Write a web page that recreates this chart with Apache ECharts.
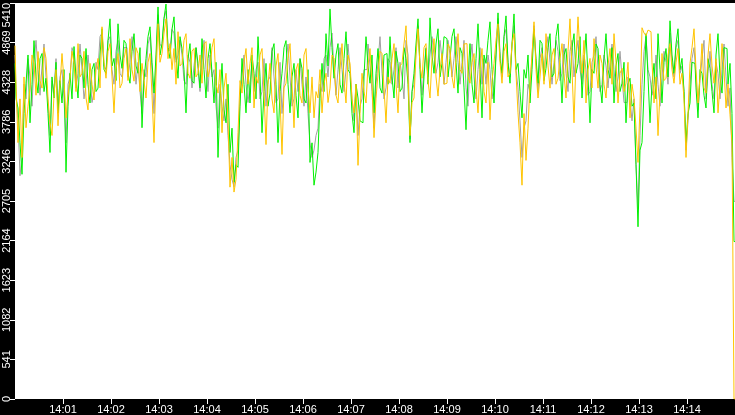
<!DOCTYPE html>
<html>
<head>
<meta charset="utf-8">
<script src="https://cdn.jsdelivr.net/npm/echarts@6/dist/echarts.min.js"></script>
<style>
    html, body {margin: 0; padding: 0; background: #000;}
    #chart {width: 735px; height: 415px;}
</style>
</head>
<body>
<div id="chart"></div>
<script>
// samples every 2.5 s starting 14:00:00
const stepSeconds = 2.5;
const startLabelHour = 14;

const yTickLabels = ["0", "541", "1082", "1623", "2164", "2705", "3246", "3786", "4328", "4869", "5410"];

const grayValues = [
    4700, 4200, 3800, 3050, 3300, 4300, 4100, 4650, 4400, 4000, 4600, 4900, 4500, 4150, 4550, 4850, 4400, 4050, 3600, 4350,
    4200, 4650, 3900, 4400, 4500, 4100, 3500, 4300, 4400, 4800, 4700, 4250, 4450, 4850, 4500, 4100, 4300, 4700, 4400, 4050,
    4200, 4600, 4500, 4950, 5000, 4550, 4500, 4900, 4950, 4500, 4300, 4750, 4900, 4450, 4400, 4800, 4800, 4400, 4600, 4950,
    4700, 4300, 4600, 4200, 3900, 4500, 4400, 4850, 4950, 4500, 3900, 4600, 5250, 4850, 4800, 5200, 5300, 4800, 4750, 5050,
    5000, 4600, 4700, 4900, 4700, 4350, 4300, 4700, 4600, 4250, 4550, 4800, 4500, 4200, 4600, 4900, 4500, 4200, 4700, 4400,
    4500, 4000, 3700, 4300, 4000, 3800, 4100, 3600, 3200, 3000, 2900, 3300, 3400, 4100, 4400, 4700, 4300, 4050, 4300, 4600,
    4200, 4500, 4600, 4100, 4200, 4650, 4000, 4350, 4400, 4800, 4400, 4050, 4100, 4600, 3900, 4300, 4600, 4850, 4400, 4000,
    4100, 4500, 4200, 4650, 4300, 4000, 4400, 3900, 3500, 3300, 3400, 3600, 3700, 4300, 4200, 4650, 4700, 4400, 4800, 5000,
    4500, 4150, 4500, 4800, 4500, 4200, 4500, 4850, 4500, 4100, 3800, 4300, 3600, 4000, 4100, 4500, 4500, 4850, 4550, 4200,
    3700, 4300, 4600, 4950, 4450, 4100, 4250, 4650, 4600, 4300, 4500, 4800, 4250, 4600, 4400, 4100, 4900, 4700, 3550, 4200,
    4300, 4750, 5100, 4600, 4150, 4500, 4800, 4400, 4700, 4950, 4700, 4450, 4600, 4900, 4650, 4300, 4600, 4900, 4700, 4400,
    4650, 4950, 4600, 4300, 4600, 4900, 4250, 4000, 4600, 4850, 4400, 4100, 4500, 4800, 4300, 4650, 4300, 4700, 4500, 4100,
    4300, 4700, 5200, 4750, 4400, 4950, 5050, 4600, 4400, 4850, 5100, 4500, 4250, 3800, 3300, 3700, 3800, 4300, 4200, 4700,
    5100, 4600, 4200, 4650, 4800, 4400, 4750, 4950, 4600, 4300, 4600, 4900, 4750, 4350, 4450, 4850, 4450, 4200, 4750, 4900,
    4400, 4700, 4900, 4500, 4300, 4700, 4500, 4150, 4200, 4600, 4700, 4950, 4500, 4200, 4300, 4700, 4550, 4250, 4600, 4850,
    4500, 4200, 4400, 4750, 4400, 4050, 4050, 4400, 4100, 3800, 4100, 3200, 2600, 3600, 4300, 4750, 4950, 4500, 4400, 4150,
    4300, 4700, 4300, 4000, 4400, 4750, 4600, 4300, 5000, 4600, 4400, 4800, 4900, 4450, 4550, 4200, 3400, 3800, 4300, 4650,
    4800, 4400, 3950, 4350, 4650, 4900, 4100, 4450, 4750, 4300, 4100, 4600, 4450, 4100, 4500, 4850, 4400, 4000, 4250, 3300,
    2700
];

const greenValues = [
    4585, 4100, 3976, 3500, 3070, 3900, 4314, 4700, 3773, 4300, 4896, 4400, 4179, 4650, 4720, 4200, 4382, 3900, 3368, 4400,
    4112, 4600, 3909, 4350, 4044, 4500, 3097, 4000, 4450, 4100, 4815, 4400, 4112, 4700, 4653, 4250, 4788, 4300, 4044, 4500,
    4585, 4200, 4247, 4700, 5058, 4500, 4450, 4900, 5194, 4550, 4653, 4350, 5126, 4700, 4517, 4900, 4855, 4450, 4314, 4750,
    4991, 4550, 4450, 4800, 3706, 4350, 4653, 4950, 5085, 4600, 4179, 4700, 5356, 4700, 4855, 5200, 5396, 4800, 4653, 5050,
    5221, 4700, 4382, 4950, 4788, 4500, 3909, 4650, 4855, 4350, 4314, 4800, 4585, 4250, 4923, 4500, 4112, 4650, 4855, 4450,
    4044, 4600, 3300, 4100, 4585, 3950, 3773, 4300, 3368, 3700, 2962, 3200, 3165, 4000, 4653, 4300, 3909, 4500, 4044, 4700,
    4450, 4100, 4950, 4400, 3638, 4200, 4585, 4000, 4179, 4750, 4855, 4300, 3503, 4200, 4450, 4800, 4896, 4300, 3909, 4400,
    4585, 4150, 3841, 4650, 4517, 4100, 4044, 4500, 3232, 3500, 2921, 3100, 3368, 4100, 4585, 4200, 4991, 4550, 5329, 4800,
    4382, 4700, 4855, 4300, 4179, 4650, 5018, 4500, 4450, 3900, 3638, 4300, 4112, 3800, 3773, 4400, 4950, 4550, 4314, 4700,
    3909, 4450, 4788, 4250, 4179, 4700, 4720, 4300, 4950, 4400, 4112, 4750, 4585, 4200, 4247, 4800, 4653, 4300, 3503, 4200,
    4450, 4850, 5194, 4500, 3909, 4400, 4788, 4300, 5207, 4700, 4450, 4850, 5058, 4400, 4585, 4950, 4923, 4400, 4653, 4950,
    5058, 4600, 4179, 4800, 4720, 4250, 3679, 4400, 4855, 4300, 4044, 4650, 5126, 4500, 3841, 4700, 4585, 4900, 5153, 4500,
    4044, 4700, 5275, 4650, 4450, 4950, 5234, 4600, 4314, 4850, 5261, 4500, 4585, 4200, 3841, 4500, 4382, 4700, 4044, 4500,
    5058, 4650, 4314, 4900, 4855, 4350, 4517, 4800, 4991, 4400, 4450, 4950, 5126, 4600, 4044, 4700, 4788, 4400, 4314, 4800,
    4991, 4450, 4585, 4950, 4112, 4600, 4991, 4400, 3773, 4500, 4450, 4850, 4788, 4300, 4044, 4650, 4991, 4500, 4382, 4800,
    4044, 4550, 4720, 4200, 4314, 4600, 3773, 4300, 4382, 4000, 4044, 3200, 2353, 3400, 3503, 4200, 4991, 4400, 3773, 4300,
    4585, 4100, 4991, 4500, 4044, 4600, 4788, 4400, 5167, 4700, 4450, 4850, 5058, 4500, 4653, 4200, 3503, 3900, 4044, 4600,
    4585, 4250, 3841, 4500, 4450, 4150, 3976, 4650, 4517, 4200, 3909, 4700, 4991, 4400, 4179, 4800, 4788, 4300, 4585, 3900,
    2151
];

const yellowValues = [
    4828, 4300, 3503, 4100, 3300, 4400, 3706, 4000, 4247, 4700, 4585, 4150, 4747, 4350, 4247, 4800, 4653, 4100, 3773, 3600,
    4152, 4500, 3733, 4300, 4720, 4350, 3841, 4150, 4382, 4750, 4585, 4200, 4855, 4400, 4450, 4750, 4112, 3950, 4585, 4300,
    4085, 4500, 4653, 4250, 5085, 4600, 4382, 4750, 4855, 4400, 3909, 4500, 4720, 4250, 4314, 4650, 4788, 4350, 4923, 4500,
    4342, 4800, 4720, 4200, 4585, 4350, 4112, 4600, 4720, 4150, 3503, 4400, 5126, 4600, 4720, 5000, 5194, 4650, 4855, 4500,
    4788, 4300, 5018, 4550, 4585, 4900, 4991, 4450, 4382, 4750, 4788, 4400, 4450, 4700, 4314, 4850, 4883, 4400, 4517, 4800,
    4923, 4300, 4179, 4500, 3638, 4250, 4450, 3800, 2894, 3300, 2827, 3000, 3638, 4350, 4179, 4600, 4788, 4300, 4585, 4800,
    3976, 4400, 4314, 4700, 4788, 4200, 3476, 4300, 4585, 4100, 3909, 4550, 4720, 4100, 3341, 4250, 4314, 4650, 4855, 4300,
    3706, 4500, 4585, 4150, 4044, 4700, 4788, 4250, 3909, 4400, 3841, 4200, 4112, 4500, 3909, 4300, 4450, 4050, 4247, 4700,
    4653, 4150, 4044, 4500, 4855, 4350, 4044, 4700, 4585, 4100, 3909, 4300, 3192, 3900, 4450, 4200, 4044, 4550, 4788, 4300,
    3571, 4100, 4450, 4750, 4720, 4250, 3773, 4400, 4314, 4650, 4855, 4300, 3909, 4550, 4585, 4850, 5099, 4400, 3598, 4050,
    4112, 4700, 5058, 4550, 4382, 4800, 4855, 4350, 4112, 4650, 4923, 4400, 4138, 4500, 4720, 4300, 4314, 4850, 4788, 4400,
    4247, 4650, 4991, 4500, 4450, 4850, 4855, 4400, 4314, 4600, 4720, 4250, 3909, 4500, 4788, 4200, 4044, 4600, 3814, 4350,
    4585, 4900, 5126, 4600, 4314, 4750, 4855, 4400, 4450, 4850, 4991, 4450, 3909, 3500, 2921, 3900, 3260, 3700, 4314, 4700,
    5153, 4500, 4112, 4400, 4720, 4300, 4991, 4550, 4247, 4700, 4788, 4300, 4382, 4650, 4855, 4450, 4112, 4750, 5194, 4500,
    3773, 4650, 5221, 4700, 4450, 4900, 4044, 4500, 4653, 4250, 4923, 4550, 4247, 4700, 4585, 4300, 4112, 4550, 4788, 4300,
    4991, 4600, 4044, 4450, 4517, 4200, 4314, 4600, 3841, 4300, 4112, 3700, 3232, 4000, 5072, 5000, 4964, 5040, 5018, 4600,
    4044, 4400, 3598, 4200, 4720, 4350, 4382, 4700, 4855, 4500, 4314, 4600, 4788, 4300, 4450, 4100, 3300, 3900, 4585, 4800,
    5058, 4500, 4044, 4400, 4855, 4250, 4179, 4700, 4991, 4550, 4314, 4650, 3909, 4300, 4855, 4500, 3976, 4300, 3882, 3500,
    0
];

const seriesNames = ["gray", "green", "yellow"];
const seriesColors = ["#a0a0a0", "#00f000", "#ffc400"];

function pair(values) {
    return values.map((v, i) => [i * stepSeconds, v]);
}

const chart = echarts.init(document.getElementById('chart'));

chart.setOption({
    animation: false,
    backgroundColor: "#000",
    textStyle: {fontFamily: "Liberation Sans, Arial, sans-serif"},
    grid: {
        left: 15, right: 0, top: 0, bottom: 16,
        show: true,
        backgroundColor: "#fff",
        borderWidth: 0,
    },
    xAxis: {
        type: "value",
        min: 0,
        max: 900,
        interval: 60,
        axisLine: {show: false},
        splitLine: {show: false},
        axisTick: {show: true, length: 5, lineStyle: {color: "#fff"}},
        axisLabel: {
            color: "#fff",
            fontSize: 11,
            margin: 5,
            showMinLabel: false,
            showMaxLabel: false,
            formatter: function (sec) {
                let m = Math.round(sec / 60);
                return startLabelHour + ":" + String(m).padStart(2, "0");
            },
        },
    },
    yAxis: {
        type: "value",
        min: 0,
        max: 5410,
        interval: 541,
        axisLine: {show: false},
        splitLine: {show: false},
        axisTick: {show: true, length: 5, lineStyle: {color: "#fff"}},
        axisLabel: {
            color: "#fff",
            fontSize: 11,
            rotate: 90,
            margin: 3,
            align: "center",
            verticalAlign: "bottom",
            alignMaxLabel: "right",
            formatter: function (value, index) {
                return yTickLabels[index];
            },
        },
    },
    series: [grayValues, greenValues, yellowValues].map((vals, k) => ({
        name: seriesNames[k],
        type: "line",
        step: "middle",
        data: pair(vals),
        showSymbol: false,
        symbol: "none",
        lineStyle: {width: 1, color: seriesColors[k]},
        itemStyle: {color: seriesColors[k]},
    })),
});
</script>
</body>
</html>
